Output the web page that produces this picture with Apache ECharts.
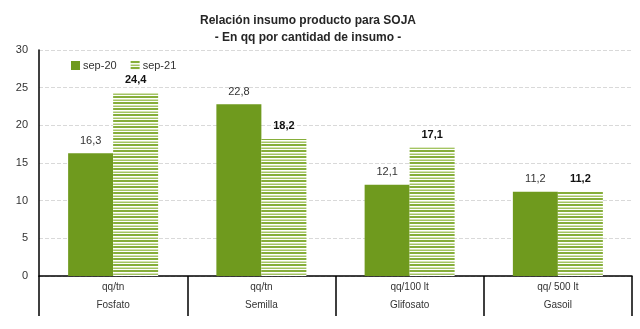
<!DOCTYPE html>
<html><head><meta charset="utf-8">
<script src="https://cdn.jsdelivr.net/npm/echarts@6/dist/echarts.min.js"></script>
<style>html,body{margin:0;padding:0;background:#fff}#c{width:640px;height:329px}</style>
</head><body><div id="c"></div>
<script>
const categories = ['qq/tn\nFosfato', 'qq/tn\nSemilla', 'qq/100 lt\nGlifosato', 'qq/ 500 lt\nGasoil'];
const sep20 = [16.3, 22.8, 12.1, 11.2];
const sep21 = [24.4, 18.2, 17.1, 11.2];
const yTicks = [0, 5, 10, 15, 20, 25, 30];

const pc = document.createElement('canvas');
pc.width = 4; pc.height = 6;
const g = pc.getContext('2d');
g.fillStyle = '#ffffff'; g.fillRect(0,0,4,6);
g.fillStyle = '#86ae3a'; g.fillRect(0,0,4,2);
g.fillStyle = '#d3e2b0'; g.fillRect(0,3,4,1);
g.fillStyle = '#a3c463'; g.fillRect(0,4,4,1);

const fmt = p => String(p.value.toFixed(1)).replace('.', ',');
const chart = echarts.init(document.getElementById('c'));
chart.setOption({
  animation: false,
  textStyle: {fontFamily: 'Liberation Sans'},
  title: {
    text: 'Relación insumo producto para SOJA\n- En qq por cantidad de insumo -',
    left: 303, top: 7, textAlign: 'center',
    textStyle: {fontSize: 12, fontWeight: 'bold', color: '#262626', lineHeight: 17}
  },
  legend: {
    left: 66, top: 55, itemWidth: 9, itemHeight: 9, itemGap: 14, icon: 'rect',
    textStyle: {fontSize: 11, color: '#333', padding: [0, 0, 0, -2]},
    data: ['sep-20', 'sep-21']
  },
  grid: {left: 39, right: 8, top: 50, bottom: 53},
  xAxis: {
    type: 'category', data: categories,
    axisLine: {lineStyle: {color: '#000', width: 1.5}},
    axisTick: {show: true, alignWithLabel: false, interval: 0, length: 40, lineStyle: {color: '#000', width: 1.5}},
    axisLabel: {fontSize: 10, color: '#333', lineHeight: 18, margin: 2, interval: 0}
  },
  yAxis: {
    type: 'value', min: yTicks[0], max: yTicks[yTicks.length-1], interval: 5,
    axisLine: {show: true, lineStyle: {color: '#000', width: 1.5}},
    axisTick: {show: false},
    axisLabel: {fontSize: 11, color: '#333', margin: 11},
    splitLine: {lineStyle: {color: '#d9d9d9', type: 'dashed'}}
  },
  series: [
    {name: 'sep-20', type: 'bar', data: sep20, barWidth: 45, barGap: '0%',
     itemStyle: {color: '#6f9a1e'},
     label: {show: true, position: 'top', distance: 7, fontSize: 11, color: '#333', formatter: fmt}},
    {name: 'sep-21', type: 'bar', data: sep21, barWidth: 45,
     itemStyle: {color: {image: pc, repeat: 'repeat'}},
     label: {show: true, position: 'top', distance: 7, fontSize: 11, fontWeight: 'bold', color: '#111', formatter: fmt}}
  ]
});
</script></body></html>
